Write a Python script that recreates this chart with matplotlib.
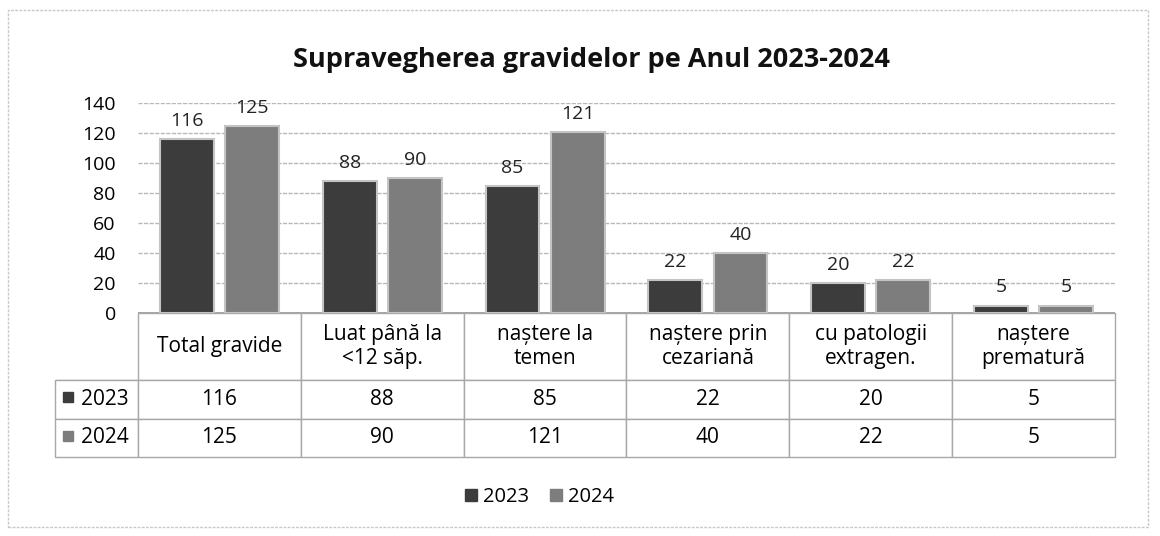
import numpy as np
import matplotlib.pyplot as plt
from matplotlib.patches import Rectangle

plt.rcParams['font.family'] = ['Open Sans', 'DejaVu Sans']

categories = ['Total gravide', 'Luat până la\n<12 săp.', 'naștere la\ntemen',
              'naștere prin\ncezariană', 'cu patologii\nextragen.', 'naștere\nprematură']
years = ['2023', '2024']
vals_2023 = [116, 88, 85, 22, 20, 5]
vals_2024 = [125, 90, 121, 40, 22, 5]
colors = ['#3c3c3c', '#7d7d7d']

fig = plt.figure(figsize=(11.6, 5.36), dpi=100)
ax = fig.add_axes([138/1160, 1-313/536, 977/1160, 210/536])

x = np.arange(len(categories))
w = 0.33
for i, (vals, col) in enumerate(zip([vals_2023, vals_2024], colors)):
    pos = x + (i - 0.5) * 0.4
    ax.bar(pos, vals, w, color=col, edgecolor='#c4c4c4', linewidth=1.5, zorder=3)
    for p, v in zip(pos, vals):
        ax.text(p, v + 6, str(v), ha='center', va='bottom', fontsize=14, color='#222222')

ax.set_xlim(-0.5, len(categories) - 0.5)
ax.set_ylim(0, 140)
ax.set_yticks(range(0, 141, 20))
ax.tick_params(axis='y', length=0, labelsize=14, pad=16)
ax.set_xticks([])
ax.grid(axis='y', color='#b8b8b8', linestyle=(0, (3, 1)), linewidth=1, zorder=0)
for s in ax.spines.values():
    s.set_visible(False)
ax.axhline(0, color='#999999', linewidth=1.2, zorder=2)

# data table under the chart
cell_text = [[years[0]] + [str(v) for v in vals_2023],
             [years[1]] + [str(v) for v in vals_2024]]
tab = ax.table(cellText=cell_text, colLabels=[''] + categories,
               colWidths=[83] + [977/6]*6, cellLoc='center',
               bbox=[-83/977, -144/210, 1060/977, 144/210])
tab.auto_set_font_size(False)
tab.set_fontsize(15)
for (r, c), cell in tab.get_celld().items():
    cell.set_edgecolor('#a8a8a8')
    cell.set_linewidth(1)
    cell.set_height(67 if r == 0 else 38.5)
    if r == 0 and c == 0:
        cell.visible_edges = 'B'
    if c == 0 and r > 0:
        cell.get_text().set_text('   ' + years[r-1])

# small colour keys in the row labels
for i, col in enumerate(colors):
    yc = -(84 + 38.5 * i) / 210
    ax.add_patch(Rectangle((-75/977, yc - 5/210), 10/977, 10/210, color=col,
                           transform=ax.transAxes, clip_on=False, zorder=5))

fig.text(0.510, 1-60/536, 'Supravegherea gravidelor pe Anul 2023-2024',
         ha='center', va='center', fontsize=19.5, fontweight='bold', color='#111111')

handles = [Rectangle((0, 0), 1, 1, color=c) for c in colors]
fig.legend(handles, years, loc='center', bbox_to_anchor=(0.465, 1-497/536), ncol=2,
           frameon=False, fontsize=14.5, handlelength=0.6, handleheight=0.6,
           handletextpad=0.3, columnspacing=1.0)

fig.add_artist(Rectangle((8/1160, 1-527/536), 1140/1160, 517/536, transform=fig.transFigure,
                         fill=False, edgecolor='#c8c8c8', linewidth=1, linestyle=(0, (2, 1))))

fig.savefig('out.png', dpi=100)
